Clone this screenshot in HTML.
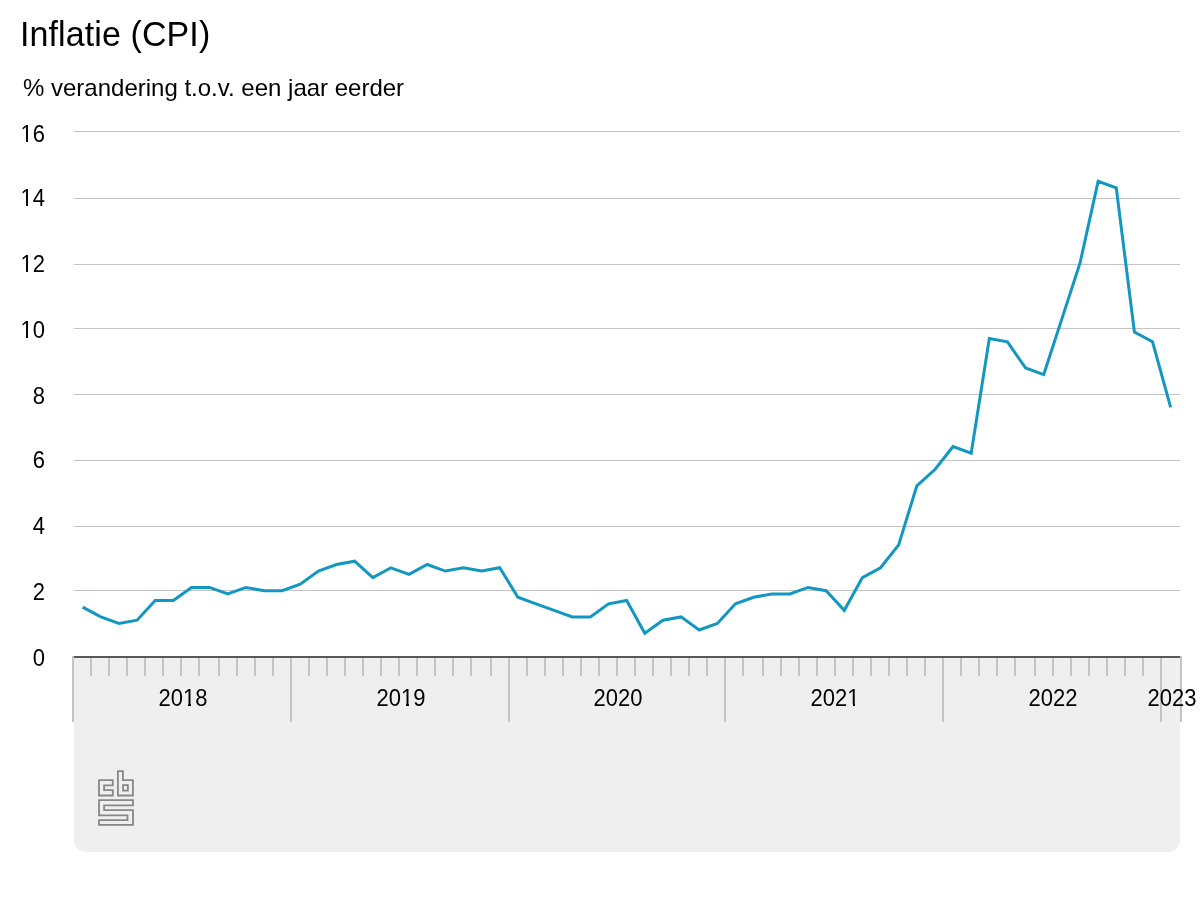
<!DOCTYPE html>
<html><head><meta charset="utf-8">
<style>
html,body{margin:0;padding:0;background:#fff;width:1200px;height:900px;overflow:hidden;}
body{position:relative;font-family:"Liberation Sans",sans-serif;color:#000;}
.tx{position:absolute;white-space:nowrap;line-height:1;will-change:transform;transform-origin:0 0;}
.t{letter-spacing:0.1px;left:20px;top:15.38px;font-size:34px;transform:scaleY(1.056);}
.s{left:22.5px;top:76px;font-size:24px;transform:scaleY(1.0);}
.yl{position:absolute;left:0;width:45px;text-align:right;font-size:22px;line-height:1;white-space:nowrap;will-change:transform;transform-origin:0 0;transform:scaleY(1.06);}
.xl{position:absolute;top:687px;width:80px;text-align:center;font-size:22px;line-height:1;white-space:nowrap;will-change:transform;transform-origin:0 0;transform:scaleY(1.06);}
.panel{position:absolute;left:74px;top:656px;width:1106px;height:196px;background:#efefef;border-radius:0 0 12px 12px;}
svg{position:absolute;left:0;top:0;}
.one{position:relative;}
.one::before,.one::after{content:"";position:absolute;top:0.8em;height:0.15em;background:inherit;}
.one::before{left:0.05em;width:0.199em;}
.one::after{left:0.342em;width:0.19em;}
.yl .one::before,.yl .one::after{background:#fff;}
.xl .one::before,.xl .one::after{background:#efefef;}
</style></head><body>
<div class="panel"></div>
<div class="tx t">Inflatie (CPI)</div>
<div class="tx s">% verandering t.o.v. een jaar eerder</div>
<div class="yl" style="top:123.20px"><span class="one">1</span>6</div><div class="yl" style="top:187.20px"><span class="one">1</span>4</div><div class="yl" style="top:253.20px"><span class="one">1</span>2</div><div class="yl" style="top:319.20px"><span class="one">1</span>0</div><div class="yl" style="top:385.20px">8</div><div class="yl" style="top:449.20px">6</div><div class="yl" style="top:515.20px">4</div><div class="yl" style="top:581.20px">2</div><div class="yl" style="top:647.20px">0</div>
<svg width="1200" height="900" viewBox="0 0 1200 900">
<g fill="#c4c4c4"><rect x="74" y="131" width="1106" height="1"/><rect x="74" y="198" width="1106" height="1"/><rect x="74" y="264" width="1106" height="1"/><rect x="74" y="328" width="1106" height="1"/><rect x="74" y="394" width="1106" height="1"/><rect x="74" y="460" width="1106" height="1"/><rect x="74" y="526" width="1106" height="1"/><rect x="74" y="590" width="1106" height="1"/></g>
<g fill="#c4c4c4"><rect x="72" y="656" width="2" height="66"/><rect x="90" y="656" width="2" height="20"/><rect x="108" y="656" width="2" height="20"/><rect x="126" y="656" width="2" height="20"/><rect x="144" y="656" width="2" height="20"/><rect x="162" y="656" width="2" height="20"/><rect x="180" y="656" width="2" height="20"/><rect x="198" y="656" width="2" height="20"/><rect x="218" y="656" width="2" height="20"/><rect x="236" y="656" width="2" height="20"/><rect x="254" y="656" width="2" height="20"/><rect x="272" y="656" width="2" height="20"/><rect x="290" y="656" width="2" height="66"/><rect x="308" y="656" width="2" height="20"/><rect x="326" y="656" width="2" height="20"/><rect x="344" y="656" width="2" height="20"/><rect x="362" y="656" width="2" height="20"/><rect x="380" y="656" width="2" height="20"/><rect x="398" y="656" width="2" height="20"/><rect x="416" y="656" width="2" height="20"/><rect x="434" y="656" width="2" height="20"/><rect x="452" y="656" width="2" height="20"/><rect x="470" y="656" width="2" height="20"/><rect x="490" y="656" width="2" height="20"/><rect x="508" y="656" width="2" height="66"/><rect x="526" y="656" width="2" height="20"/><rect x="544" y="656" width="2" height="20"/><rect x="562" y="656" width="2" height="20"/><rect x="580" y="656" width="2" height="20"/><rect x="598" y="656" width="2" height="20"/><rect x="616" y="656" width="2" height="20"/><rect x="634" y="656" width="2" height="20"/><rect x="652" y="656" width="2" height="20"/><rect x="670" y="656" width="2" height="20"/><rect x="688" y="656" width="2" height="20"/><rect x="706" y="656" width="2" height="20"/><rect x="724" y="656" width="2" height="66"/><rect x="742" y="656" width="2" height="20"/><rect x="762" y="656" width="2" height="20"/><rect x="780" y="656" width="2" height="20"/><rect x="798" y="656" width="2" height="20"/><rect x="816" y="656" width="2" height="20"/><rect x="834" y="656" width="2" height="20"/><rect x="852" y="656" width="2" height="20"/><rect x="870" y="656" width="2" height="20"/><rect x="888" y="656" width="2" height="20"/><rect x="906" y="656" width="2" height="20"/><rect x="924" y="656" width="2" height="20"/><rect x="942" y="656" width="2" height="66"/><rect x="960" y="656" width="2" height="20"/><rect x="978" y="656" width="2" height="20"/><rect x="996" y="656" width="2" height="20"/><rect x="1014" y="656" width="2" height="20"/><rect x="1034" y="656" width="2" height="20"/><rect x="1052" y="656" width="2" height="20"/><rect x="1070" y="656" width="2" height="20"/><rect x="1088" y="656" width="2" height="20"/><rect x="1106" y="656" width="2" height="20"/><rect x="1124" y="656" width="2" height="20"/><rect x="1142" y="656" width="2" height="20"/><rect x="1160" y="656" width="2" height="66"/><rect x="1180" y="656" width="2" height="66"/></g>
<rect x="74" y="656" width="1106" height="2" fill="#595959"/>
<polyline points="82.67,607.08 100.80,616.90 118.93,623.45 137.07,620.18 155.20,600.53 173.33,600.53 191.47,587.43 209.60,587.43 227.73,593.98 245.87,587.43 264.00,590.70 282.13,590.70 300.27,584.15 318.40,571.05 336.53,564.50 354.67,561.23 372.80,577.60 390.93,567.78 409.07,574.33 427.20,564.50 445.33,571.05 463.47,567.78 481.60,571.05 499.73,567.78 517.87,597.25 536.00,603.80 554.13,610.35 572.27,616.90 590.40,616.90 608.53,603.80 626.67,600.53 644.80,633.28 662.93,620.18 681.07,616.90 699.20,630.00 717.33,623.45 735.47,603.80 753.60,597.25 771.73,593.98 789.87,593.98 808.00,587.43 826.13,590.70 844.27,610.35 862.40,577.60 880.53,567.78 898.67,544.85 916.80,485.90 934.93,469.53 953.07,446.60 971.20,453.15 989.33,338.53 1007.47,341.80 1025.60,368.00 1043.73,374.55 1061.87,318.88 1080.00,263.20 1098.13,181.33 1116.27,187.88 1134.40,331.98 1152.53,341.80 1170.67,407.30" fill="none" stroke="#1397c1" stroke-width="3" stroke-linejoin="miter" stroke-miterlimit="10" stroke-linecap="butt"/>
<g fill="none" stroke="#878787" stroke-width="1.8" stroke-linejoin="miter">
<polygon points="99,780.1 112.8,780.1 112.8,785.3 104.1,785.3 104.1,790.2 112.8,790.2 112.8,795.5 99,795.5"/>
<polygon points="117.9,771.2 122.9,771.2 122.9,780.1 132.9,780.1 132.9,795.5 117.9,795.5"/>
<rect x="123.1" y="785.1" width="4.8" height="5.5"/>
<polygon points="99,800.1 133,800.1 133,805.3 104.1,805.3 104.1,810.2 133,810.2 133,824.8 99,824.8 99,820.2 127.5,820.2 127.5,815.4 99,815.4"/>
</g>
</svg>
<div class="xl" style="left:142.70px">20<span class="one">1</span>8</div><div class="xl" style="left:360.70px">20<span class="one">1</span>9</div><div class="xl" style="left:577.70px">2020</div><div class="xl" style="left:794.70px">202<span class="one">1</span></div><div class="xl" style="left:1012.70px">2022</div><div class="xl" style="left:1131.70px">2023</div>
</body></html>
